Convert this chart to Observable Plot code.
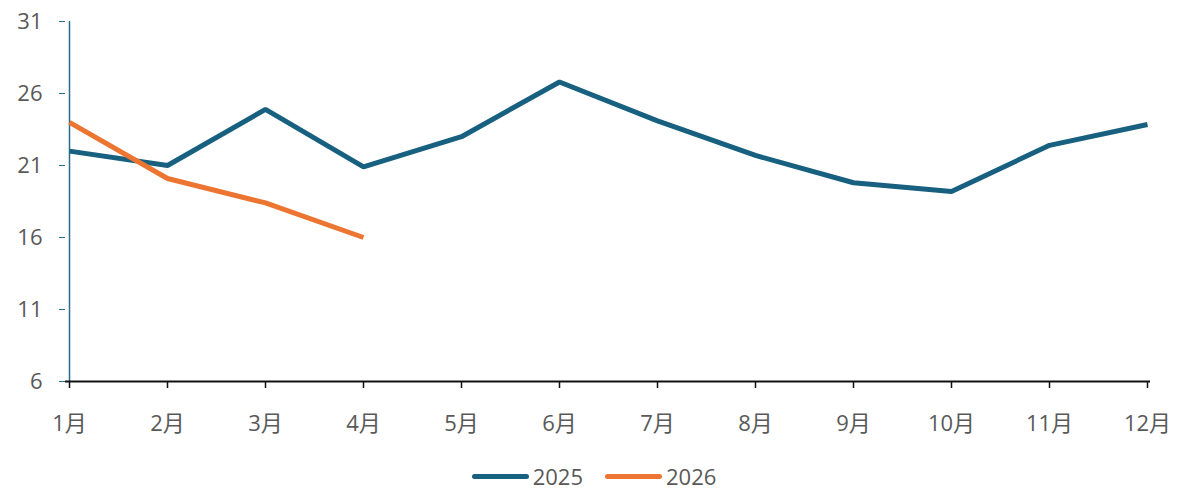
<!DOCTYPE html>
<html>
<head>
<meta charset="utf-8">
<script src="https://cdn.jsdelivr.net/npm/d3@7"></script>
<script src="https://cdn.jsdelivr.net/npm/@observablehq/plot@0.6"></script>
<style>
  html, body { margin: 0; padding: 0; background: #fff; }
  body { width: 1180px; font-family: "Open Sans", "Noto Sans CJK SC", sans-serif; }
  #chart svg { display: block; }
  #chart svg text { font-size: 22px !important; font-family: "Open Sans", "Noto Sans CJK SC", sans-serif; }
  #legend { display: flex; justify-content: center; align-items: center; gap: 22px; height: 22px; margin-top: 25px; color: #595959; font-size: 22px; line-height: 22px; margin-left: 8px; }
  .item { display: flex; align-items: center; gap: 4px; height: 22px; }
  .sw { width: 57px; height: 5px; border-radius: 3px; display: inline-block; }
</style>
</head>
<body>
<div id="chart"></div>
<div id="legend"></div>
<script>
const months = ["1月","2月","3月","4月","5月","6月","7月","8月","9月","10月","11月","12月"];
const seriesNames = ["2025", "2026"];
const values2025 = [22.0, 21.0, 24.9, 20.9, 23.0, 26.8, 24.1, 21.7, 19.8, 19.2, 22.4, 23.85];
const values2026 = [24.0, 20.1, 18.4, 16.0];
const yTicks = [6, 11, 16, 21, 26, 31];
const colors = ["#17607f", "#ed7532"];

const data = [
  ...values2025.map((v, i) => ({month: months[i], value: v, series: seriesNames[0]})),
  ...values2026.map((v, i) => ({month: months[i], value: v, series: seriesNames[1]}))
];

const chart = Plot.plot({
  width: 1180,
  height: 440,
  marginLeft: 65,
  marginRight: 30,
  marginTop: 21,
  marginBottom: 59,
  style: {fontFamily: '"Open Sans", "Noto Sans CJK SC", sans-serif', fontSize: "22px", color: "#595959", background: "transparent"},
  x: {type: "point", domain: months, padding: 0},
  y: {domain: [6, 31]},
  color: {domain: seriesNames, range: colors},
  marks: [
    Plot.axisY({ticks: yTicks, tickSize: 6, tickPadding: 17, stroke: "#2a6b8a", fill: "#595959", label: null}),
    Plot.ruleX([months[0]], {stroke: "#2a6b8a", strokeWidth: 1.5}),
    Plot.axisX({tickSize: 7, tickPadding: 27, stroke: "#111", strokeWidth: 1.5, fill: "#595959", label: null}),
    Plot.ruleY([6], {stroke: "#111", strokeWidth: 2}),
    Plot.line(data, {x: "month", y: "value", z: "series", stroke: "series", strokeWidth: 5, strokeLinejoin: "miter", strokeLinecap: "butt"})
  ]
});
document.getElementById("chart").appendChild(chart);

const legend = document.getElementById("legend");
seriesNames.forEach((name, i) => {
  const item = document.createElement("span");
  item.className = "item";
  const sw = document.createElement("span");
  sw.className = "sw";
  sw.style.background = colors[i];
  const label = document.createElement("span");
  label.textContent = name;
  item.appendChild(sw);
  item.appendChild(label);
  legend.appendChild(item);
});
</script>
</body>
</html>
